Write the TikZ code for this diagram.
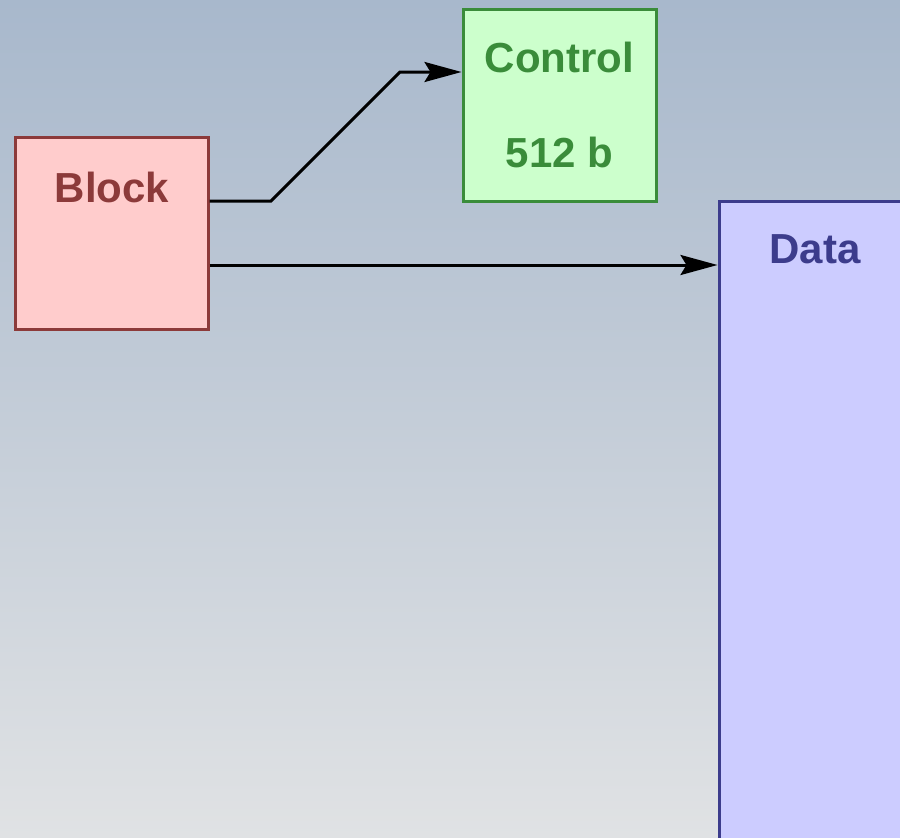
\documentclass[tikz,border=0pt]{standalone}
\usepackage{fontspec}
\setmainfont{Liberation Sans}
\usetikzlibrary{arrows.meta,calc}
\definecolor{bgtop}{RGB}{168,184,204}
\definecolor{bgbot}{RGB}{224,226,228}
\definecolor{blkfill}{RGB}{255,204,204}
\definecolor{blkline}{RGB}{140,58,58}
\definecolor{ctlfill}{RGB}{204,255,204}
\definecolor{ctlline}{RGB}{58,140,58}
\definecolor{datfill}{RGB}{204,204,255}
\definecolor{datline}{RGB}{60,60,140}
\tikzset{
  boxnode/.style={rectangle, line width=3pt, inner sep=0pt, minimum width=193pt},
  lbl/.style={font=\bfseries\fontsize{42}{50}\selectfont, anchor=base, inner sep=0pt},
  conn/.style={line width=3pt, -{Stealth[length=37pt,width=20pt,inset=6pt]}}
}
\begin{document}
\begin{tikzpicture}[x=1pt,y=-1pt]
\useasboundingbox (0,0) rectangle (900,838);
\shade[top color=bgtop, bottom color=bgbot] (0,0) rectangle (900,838);
\begin{scope}
\clip (0,0) rectangle (900,838);
\node[boxnode, draw=datline, fill=datfill, minimum height=660pt] (data) at (815.5,531) {};
\end{scope}
\node[boxnode, draw=blkline, fill=blkfill, minimum height=192pt] (block) at (111.5,233) {};
\node[boxnode, draw=ctlline, fill=ctlfill, minimum height=192pt] (ctrl) at (559.5,105) {};
\node[lbl, text=blkline] (blocklbl) at (112,202) {Block};
\node[lbl, text=ctlline] (ctrllbl) at (559.5,72) {Control};
\node[lbl, text=ctlline] (sizelbl) at (559.5,167) {512 b};
\node[lbl, text=datline] (datalbl) at (815,263) {Data};
\coordinate (bout1) at ([yshift=32pt]block.east);
\coordinate (bout2) at ([yshift=-32pt]block.east);
\coordinate (cin) at ([yshift=33pt]ctrl.west);
\draw[conn] (bout1) -- (271,201) -- (400,72) -- (cin);
\draw[conn] (bout2) -- (bout2 -| data.west);
\end{tikzpicture}
\end{document}
